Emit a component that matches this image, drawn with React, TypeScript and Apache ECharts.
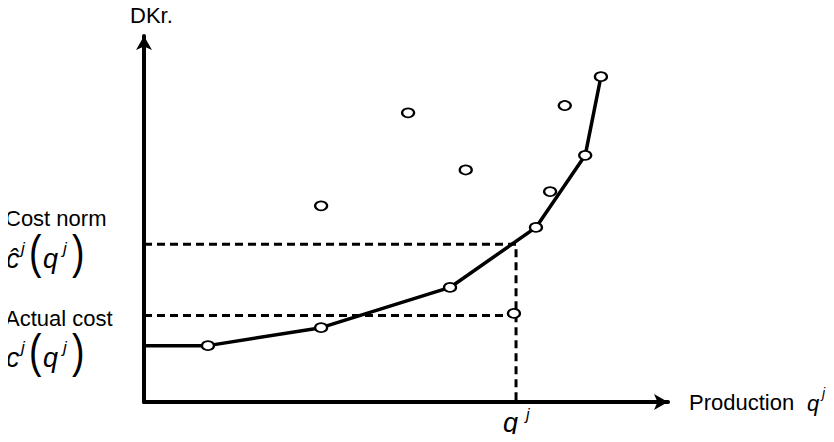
import { useEffect, useRef } from 'react'
import * as echarts from 'echarts'

// frontier (piecewise linear cost norm), in abstract units 0..100
const frontierX = [0, 12.2, 33.8, 58.4, 74.8, 84.2, 87.2]
const frontierY = [15.4, 15.4, 20.3, 31.3, 47.7, 67.4, 88.9]

// observed firms (circles); the first point of the frontier has no marker
const pointX = [12.2, 33.8, 58.4, 74.8, 84.2, 87.2, 33.8, 50.4, 61.4, 77.5, 80.3, 70.6]
const pointY = [15.4, 20.3, 31.3, 47.7, 67.4, 88.9, 53.6, 79.0, 63.4, 57.5, 81.0, 24.2]

// firm j: production, cost norm, actual cost
const qj = 71.0
const costNorm = 43.1
const actualCost = 23.6
const actualCostEnd = 70.4

const FONT = '"Liberation Sans", Arial, Helvetica, sans-serif'

function txt(text: string, x: number, y: number, size: number, italic = false) {
  return {
    type: 'text',
    x,
    y,
    style: {
      text,
      fontFamily: FONT,
      fontSize: size,
      fontStyle: italic ? 'italic' : 'normal',
      fill: '#000',
      textAlign: 'left',
      textVerticalAlign: 'middle',
    },
  }
}

// stretched parenthesis, scaled around its own anchor
function paren(ch: string, x: number, y: number) {
  return { ...txt(ch, x, y, 30), scaleX: 1.25, scaleY: 1.55 }
}

// f^j(q^j); dy shifts the whole thing vertically
function mathLabel(f: string, dy: number) {
  return {
    type: 'group',
    children: [
      txt(f, 6, 259 + dy, 27, true),
      txt('j', 21, 248 + dy, 17, true),
      paren('(', 29, 252.5 + dy),
      txt('q', 43, 259 + dy, 27, true),
      txt('j', 63, 248 + dy, 17, true),
      paren(')', 72, 252.5 + dy),
    ],
  }
}

export default function App() {
  const chartRef = useRef<HTMLDivElement>(null)

  useEffect(() => {
    if (!chartRef.current) return
    const chart = echarts.init(chartRef.current, undefined, { renderer: 'svg' })

    const axisCommon = {
      type: 'value',
      min: 0,
      max: 100,
      axisTick: { show: false },
      axisLabel: { show: false },
      splitLine: { show: false },
      axisLine: {
        show: true,
        symbol: ['none', 'arrow'],
        symbolSize: [12, 14],
        lineStyle: { color: '#000', width: 4 },
      },
    }

    const dashed = { color: '#000', width: 3, type: [8, 5] }

    chart.setOption({
      animation: false,
      grid: { left: 144, right: 166, top: 36, bottom: 40 },
      xAxis: { ...axisCommon },
      yAxis: { ...axisCommon },
      series: [
        {
          type: 'line',
          data: [[0, costNorm], [qj, costNorm], [qj, 0]],
          symbol: 'none',
          lineStyle: dashed,
          z: 1,
        },
        {
          type: 'line',
          data: [[0, actualCost], [actualCostEnd, actualCost]],
          symbol: 'none',
          lineStyle: dashed,
          z: 1,
        },
        {
          type: 'line',
          data: frontierX.map((x, i) => [x, frontierY[i]]),
          symbol: 'none',
          lineStyle: { color: '#000', width: 3.5 },
          z: 2,
        },
        {
          type: 'scatter',
          data: pointX.map((x, i) => [x, pointY[i]]),
          symbol: 'circle',
          symbolSize: [12, 9],
          itemStyle: { color: '#fff', borderColor: '#000', borderWidth: 2, opacity: 1 },
          emphasis: { disabled: true },
          z: 3,
        },
      ],
      graphic: [
        txt('DKr.', 130, 15, 22),
        txt('Cost norm', 5, 218, 22),
        mathLabel('ĉ', 0),
        txt('Actual cost', 5, 318, 22),
        mathLabel('c', 99),
        txt('Production', 689, 402.5, 22),
        txt('q', 807, 403, 22, true),
        txt('j', 822, 393, 14, true),
        txt('q', 503, 422.5, 27, true),
        txt('j', 526, 414.5, 16, true),
      ],
    })

    return () => {
      chart.dispose()
    }
  }, [])

  return <div ref={chartRef} style={{ width: 834, height: 442, margin: -8 }} />
}
